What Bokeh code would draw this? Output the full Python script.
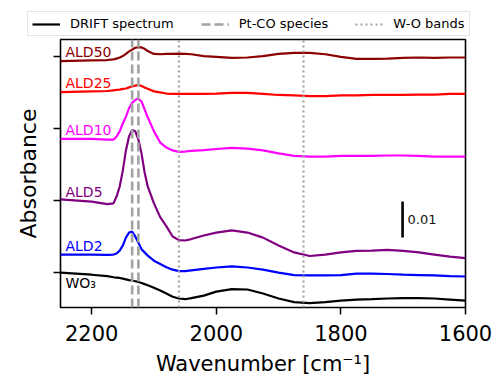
from bokeh.plotting import figure
from bokeh.layouts import column
from bokeh.models import Range1d, FixedTicker, Legend, LegendItem
from bokeh.embed import file_html
from bokeh.resources import INLINE
from bokeh.core.properties import value

# ---- data ----
wavenumber = [2250, 2200, 2175, 2165, 2160, 2155, 2150, 2145, 2140, 2135,
              2130, 2125, 2120, 2115, 2110, 2100, 2090, 2080, 2070, 2060,
              2050, 2040, 2020, 2000, 1975, 1950, 1925, 1900, 1875, 1850,
              1825, 1800, 1775, 1750, 1725, 1700, 1675, 1650, 1625, 1600]

wo3 = [0.0000, -0.0006, -0.0010, -0.0013, -0.0014, -0.0015, -0.0017, -0.0019, -0.0021, -0.0022,
       -0.0024, -0.0026, -0.0029, -0.0032, -0.0035, -0.0042, -0.0050, -0.0058, -0.0067, -0.0072,
       -0.0074, -0.0071, -0.0064, -0.0053, -0.0046, -0.0047, -0.0058, -0.0072, -0.0082, -0.0085,
       -0.0082, -0.0078, -0.0075, -0.0074, -0.0072, -0.0071, -0.0071, -0.0072, -0.0075, -0.0078]

ald2 = [0.0050, 0.0050, 0.0049, 0.0050, 0.0053, 0.0061, 0.0075, 0.0097, 0.0111, 0.0114,
        0.0100, 0.0083, 0.0065, 0.0056, 0.0047, 0.0033, 0.0024, 0.0015, 0.0008, 0.0004,
        0.0004, 0.0006, 0.0010, 0.0014, 0.0017, 0.0014, 0.0008, 0.0000, -0.0007, -0.0008,
        -0.0008, -0.0007, -0.0003, -0.0003, -0.0004, -0.0006, -0.0007, -0.0008, -0.0010, -0.0011]

ald5 = [0.0203, 0.0197, 0.0190, 0.0192, 0.0211, 0.0239, 0.0283, 0.0339, 0.0378, 0.0396,
        0.0392, 0.0369, 0.0331, 0.0278, 0.0239, 0.0192, 0.0154, 0.0128, 0.0100, 0.0090,
        0.0089, 0.0093, 0.0103, 0.0111, 0.0117, 0.0111, 0.0097, 0.0075, 0.0056, 0.0046,
        0.0050, 0.0056, 0.0060, 0.0061, 0.0063, 0.0060, 0.0056, 0.0050, 0.0044, 0.0040]

ald10 = [0.0371, 0.0371, 0.0369, 0.0369, 0.0378, 0.0392, 0.0414, 0.0433, 0.0456, 0.0471,
         0.0479, 0.0483, 0.0475, 0.0453, 0.0431, 0.0392, 0.0361, 0.0347, 0.0339, 0.0335,
         0.0336, 0.0338, 0.0340, 0.0343, 0.0346, 0.0344, 0.0339, 0.0331, 0.0324, 0.0322,
         0.0322, 0.0324, 0.0324, 0.0324, 0.0325, 0.0325, 0.0324, 0.0322, 0.0322, 0.0322]

ald25 = [0.0501, 0.0503, 0.0504, 0.0506, 0.0507, 0.0508, 0.0510, 0.0511, 0.0514, 0.0517,
         0.0519, 0.0521, 0.0518, 0.0514, 0.0510, 0.0503, 0.0500, 0.0497, 0.0496, 0.0496,
         0.0496, 0.0496, 0.0496, 0.0497, 0.0499, 0.0499, 0.0496, 0.0493, 0.0492, 0.0490,
         0.0490, 0.0492, 0.0492, 0.0493, 0.0493, 0.0493, 0.0494, 0.0494, 0.0496, 0.0496]

ald50 = [0.0587, 0.0589, 0.0590, 0.0592, 0.0594, 0.0597, 0.0601, 0.0607, 0.0614, 0.0619,
         0.0624, 0.0626, 0.0625, 0.0621, 0.0615, 0.0607, 0.0606, 0.0607, 0.0607, 0.0608,
         0.0607, 0.0606, 0.0601, 0.0599, 0.0596, 0.0597, 0.0601, 0.0607, 0.0610, 0.0610,
         0.0606, 0.0599, 0.0593, 0.0593, 0.0594, 0.0596, 0.0597, 0.0596, 0.0597, 0.0597]

series_names = ["WO\u2083", "ALD2", "ALD5", "ALD10", "ALD25", "ALD50"]
series_values = [wo3, ald2, ald5, ald10, ald25, ald50]
series_colors = ["black", "blue", "purple", "magenta", "red", "darkred"]
label_x = 2242
label_y = [-0.0029, 0.0074, 0.0225, 0.0396, 0.0525, 0.0613]

pt_co_bands = [2135, 2125]
wo_bands = [2060, 1860]
legend_labels = ["DRIFT spectrum", "Pt-CO species", "W-O bands"]

x_ticks = [2200, 2000, 1800, 1600]
y_ticks = [0.0, 0.02, 0.04, 0.06]
x_limits = (2250, 1600)
y_limits = (-0.0097, 0.0647)

scale_bar_x = 1701
scale_bar_y = (0.0097, 0.0197)
scale_bar_label = "0.01"
scale_label_x = 1693

FONT = "DejaVu Sans"
BAND_COLOR = "#a3a3a3"
DASH_STYLE = dict(line_color=BAND_COLOR, line_width=2.6, line_dash="9 4")
DOT_STYLE = dict(line_color=BAND_COLOR, line_width=2.2, line_dash="2 3")

# ---------------- main plot ----------------
p = figure(frame_width=405, frame_height=268,
           min_border_left=60, min_border_right=30,
           min_border_top=2, min_border_bottom=66,
           x_range=Range1d(*x_limits), y_range=Range1d(*y_limits),
           output_backend="svg", toolbar_location=None)
p.background_fill_color = "white"
p.border_fill_color = "white"
p.outline_line_color = "black"
p.outline_line_width = 1.6
p.xgrid.visible = False
p.ygrid.visible = False

for vals, col in zip(series_values, series_colors):
    p.line(wavenumber, vals, line_color=col, line_width=2.2)

n1 = len(pt_co_bands)
p.segment(x0=pt_co_bands, y0=[y_limits[0]] * n1, x1=pt_co_bands, y1=[y_limits[1]] * n1, **DASH_STYLE)
n2 = len(wo_bands)
p.segment(x0=wo_bands, y0=[y_limits[0]] * n2, x1=wo_bands, y1=[y_limits[1]] * n2, **DOT_STYLE)

p.text(x=[label_x] * len(series_names), y=label_y, text=series_names,
       text_color=series_colors, text_font=value(FONT), text_font_size="14px",
       text_align="left", text_baseline="middle")

p.segment(x0=[scale_bar_x], y0=[scale_bar_y[0]], x1=[scale_bar_x], y1=[scale_bar_y[1]],
          line_color="black", line_width=2.6)
p.text(x=[scale_label_x], y=[(scale_bar_y[0] + scale_bar_y[1]) / 2], text=[scale_bar_label],
       text_color="#111111", text_font=value(FONT), text_font_size="13px",
       text_align="left", text_baseline="middle")

p.xaxis.ticker = FixedTicker(ticks=x_ticks)
p.yaxis.ticker = FixedTicker(ticks=y_ticks)
for ax in (p.xaxis[0], p.yaxis[0]):
    ax.axis_line_color = None
    ax.major_tick_line_color = "black"
    ax.major_tick_line_width = 1.5
    ax.major_tick_out = 7
    ax.major_tick_in = 0
    ax.minor_tick_line_color = None
    ax.major_label_text_font = FONT
    ax.major_label_text_color = "black"
    ax.axis_label_text_font = FONT
    ax.axis_label_text_font_style = "normal"
    ax.axis_label_text_color = "black"
    ax.axis_label_text_font_size = "21px"

p.xaxis.major_label_text_font_size = "21px"
p.xaxis.major_label_standoff = 10
p.xaxis.axis_label = "Wavenumber [cm\u207b\u00b9]"
p.xaxis.axis_label_standoff = 8

p.yaxis.major_label_text_font_size = "1px"
p.yaxis.major_label_text_color = None
p.yaxis.major_label_standoff = 0
p.yaxis.axis_label = "Absorbance"
p.yaxis.axis_label_text_font_size = "22px"
p.yaxis.axis_label_standoff = 13

# ---------------- legend strip ----------------
lg = figure(width=495, height=37, min_border=0,
            x_range=Range1d(0, 1), y_range=Range1d(0, 1),
            x_axis_type=None, y_axis_type=None,
            output_backend="svg", toolbar_location=None)
lg.outline_line_color = None
lg.xgrid.visible = False
lg.ygrid.visible = False
lg.background_fill_color = "white"
lg.border_fill_color = "white"
for fig in (lg, p):
    try:
        fig.frame_align = False
    except Exception:
        pass

# legend renderers reuse the spectrum / band data; those lie outside this strip's range
r1 = lg.line(wavenumber, wo3, line_color="black", line_width=2.2)
r2 = lg.segment(x0=pt_co_bands, y0=[y_limits[0]] * n1, x1=pt_co_bands, y1=[y_limits[1]] * n1, **DASH_STYLE)
r3 = lg.segment(x0=wo_bands, y0=[y_limits[0]] * n2, x1=wo_bands, y1=[y_limits[1]] * n2, **DOT_STYLE)

legend = Legend(items=[LegendItem(label=legend_labels[0], renderers=[r1]),
                       LegendItem(label=legend_labels[1], renderers=[r2]),
                       LegendItem(label=legend_labels[2], renderers=[r3])],
                orientation="horizontal", location=(27, 1))
legend.label_text_font = FONT
legend.label_text_font_size = "13px"
legend.label_text_color = "black"
legend.glyph_width = 28
legend.glyph_height = 14
legend.label_height = 14
legend.label_standoff = 10
legend.spacing = 27
legend.padding = 4
legend.margin = 0
legend.border_line_color = "#cccccc"
legend.border_line_width = 1.2
legend.background_fill_color = "white"
legend.background_fill_alpha = 1.0
lg.add_layout(legend)

layout = column(lg, p, spacing=0)
open("out.html", "w").write(file_html(layout, INLINE))
